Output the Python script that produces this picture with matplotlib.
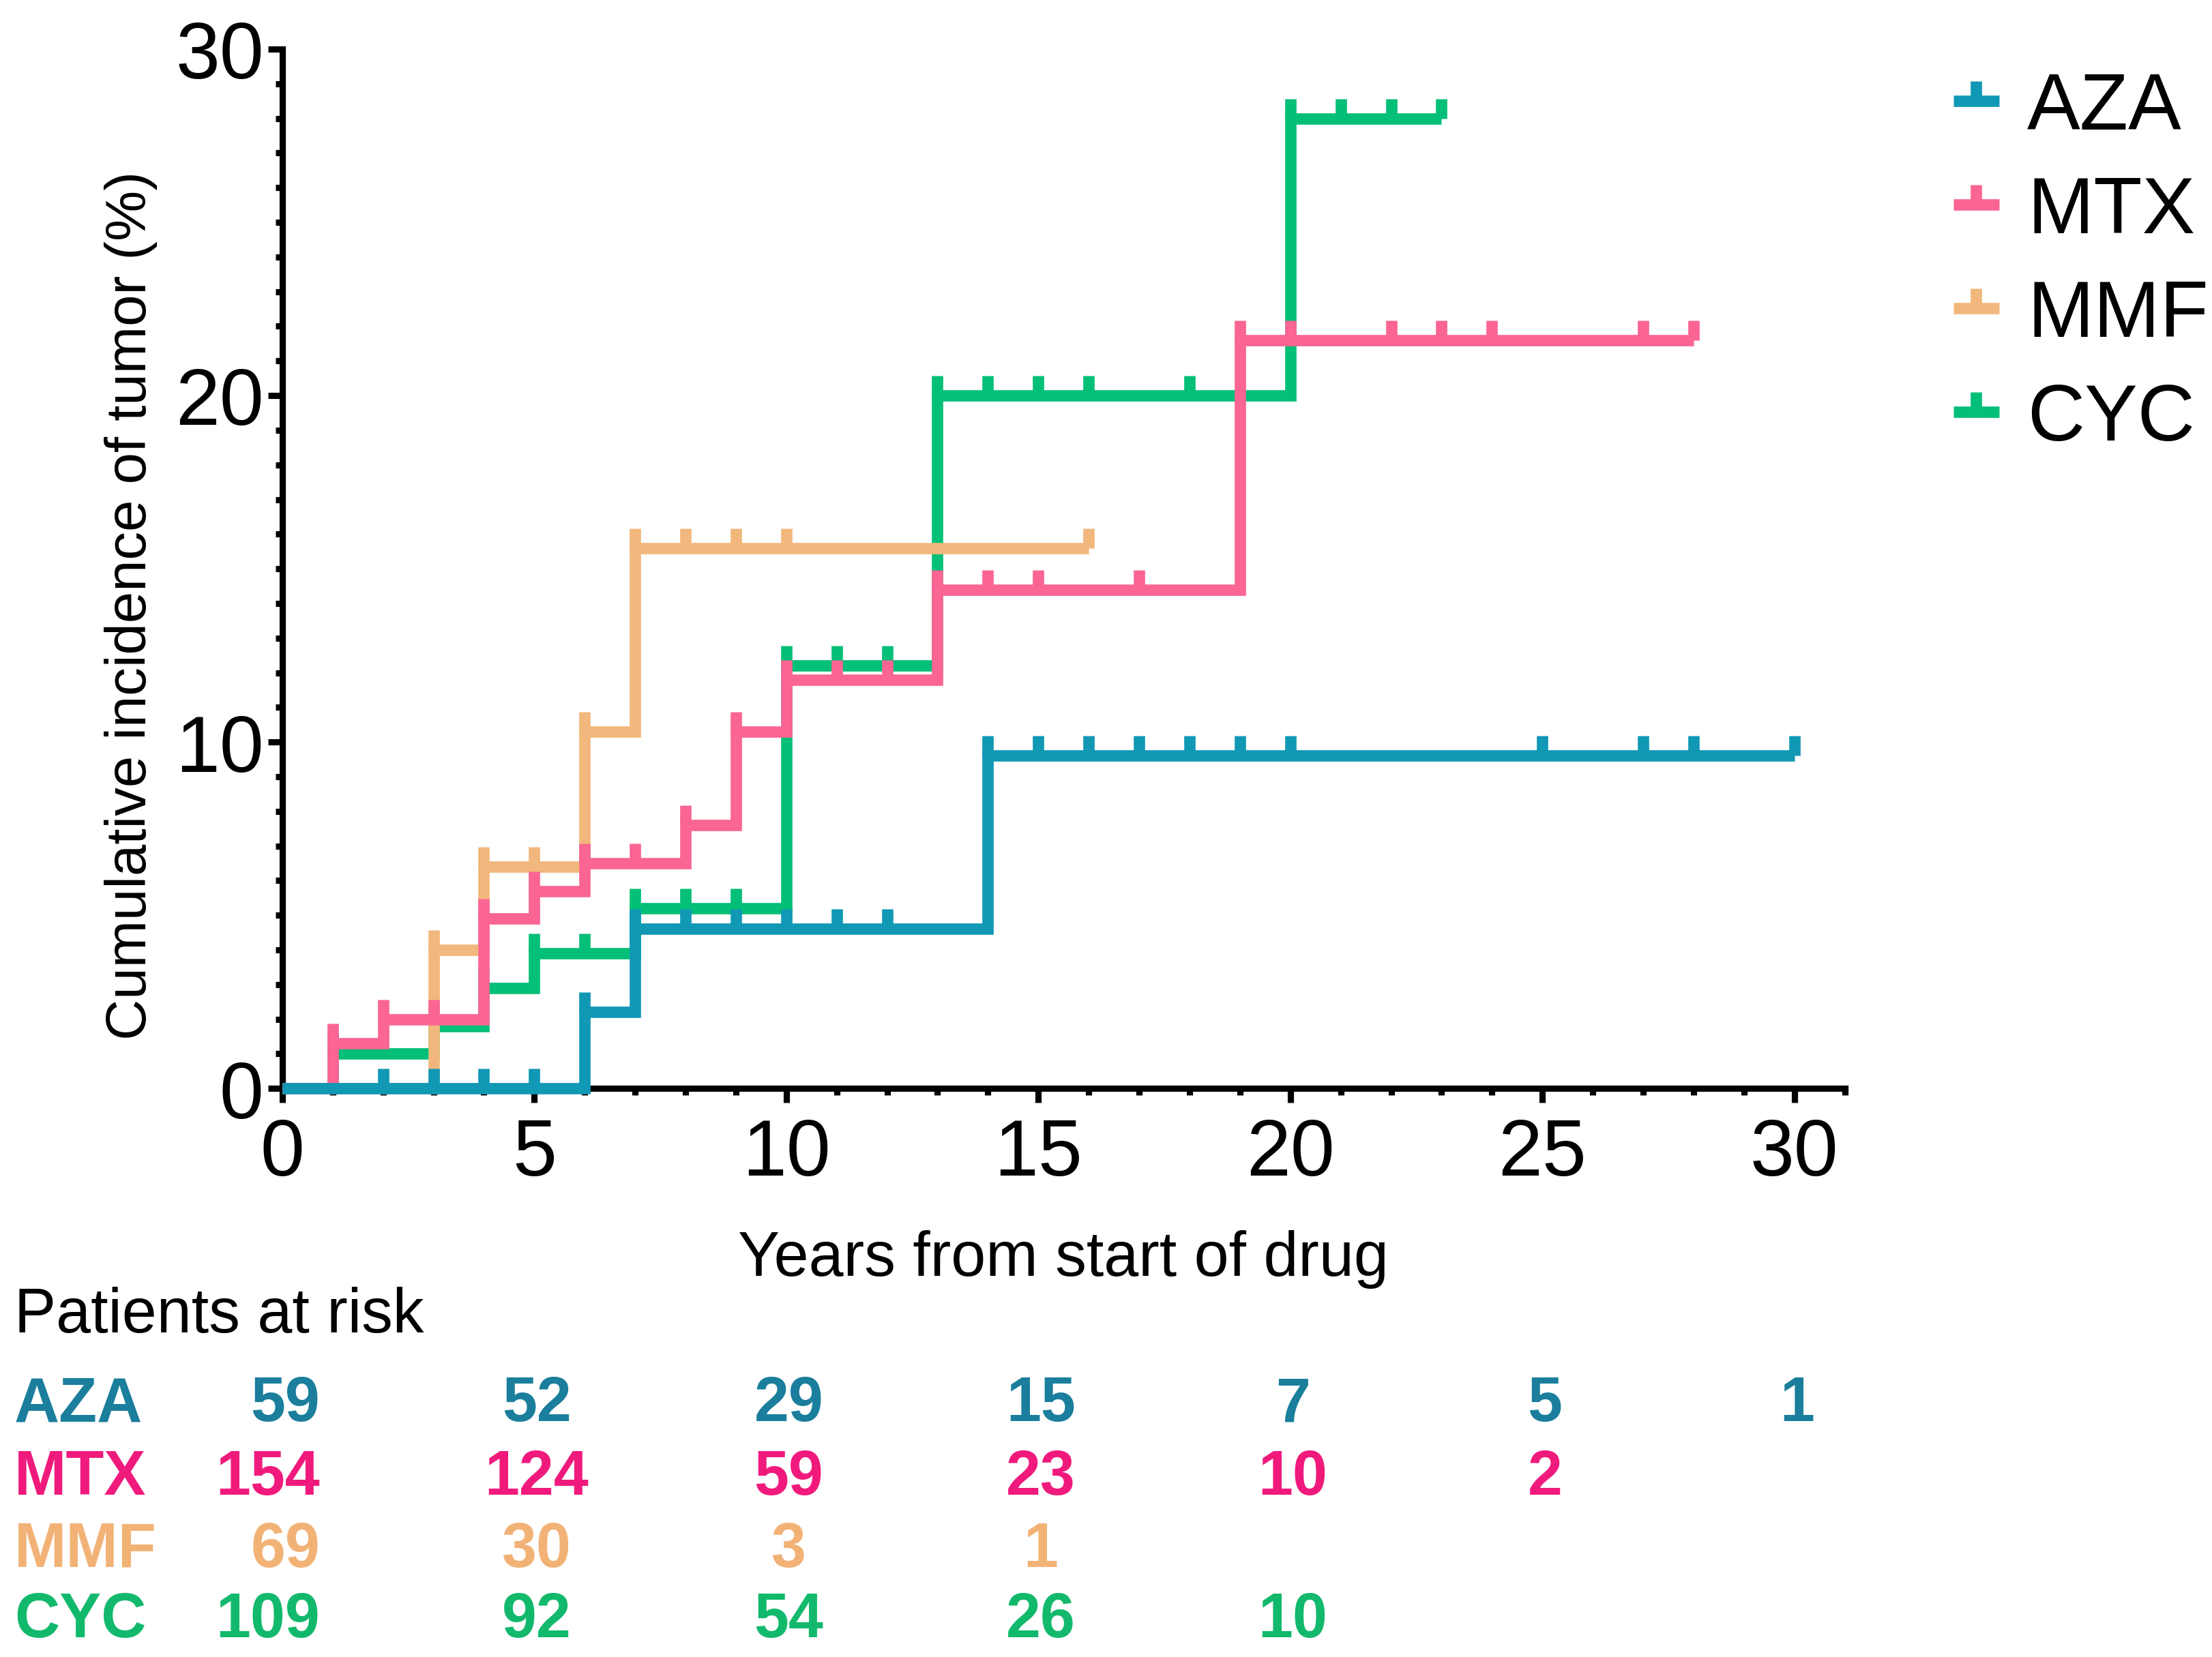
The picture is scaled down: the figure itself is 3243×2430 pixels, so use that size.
import numpy as np
import matplotlib.pyplot as plt
from matplotlib.path import Path
from matplotlib.lines import Line2D
from matplotlib import transforms
from matplotlib.ticker import MultipleLocator

plt.rcParams['font.family'] = ['Liberation Sans', 'DejaVu Sans']

groups = ['AZA', 'MTX', 'MMF', 'CYC']
line_colors = ['#1098b5', '#fa6593', '#f2b77c', '#03bf77']
text_colors = ['#1a7e9c', '#f01a7d', '#f2b276', '#12b96c']

# step curves: event times and cumulative incidence (%) after each event
aza_t = [0, 6, 7, 14]
aza_v = [0, 2.2, 4.6, 9.6]
aza_end = 30
aza_cens = [2, 3, 4, 5, 8, 9, 10, 11, 12, 15, 16, 17, 18, 19, 20, 25, 27, 28, 30]

mtx_t = [0, 1, 2, 4, 5, 6, 8, 9, 10, 13, 19]
mtx_v = [0, 1.3, 2.0, 4.9, 5.7, 6.5, 7.6, 10.3, 11.8, 14.4, 21.6]
mtx_end = 28
mtx_cens = [3, 7, 11, 12, 14, 15, 17, 20, 22, 23, 24, 27, 28]

mmf_t = [0, 3, 4, 6, 7]
mmf_v = [0, 4.0, 6.4, 10.3, 15.6]
mmf_end = 16
mmf_cens = [5, 8, 9, 10, 16]

cyc_t = [0, 1, 3, 4, 5, 7, 10, 13, 20]
cyc_v = [0, 1.0, 1.8, 2.9, 3.9, 5.2, 12.2, 20.0, 28.0]
cyc_end = 23
cyc_cens = [6, 8, 9, 11, 12, 14, 15, 16, 18, 21, 22, 23]

# patients at risk
risk_years = [0, 5, 10, 15, 20, 25, 30]
aza_risk = [59, 52, 29, 15, 7, 5, 1]
mtx_risk = [154, 124, 59, 23, 10, 2]
mmf_risk = [69, 30, 3, 1]
cyc_risk = [109, 92, 54, 26, 10]

curves = [
    (aza_t, aza_v, aza_end, aza_cens),
    (mtx_t, mtx_v, mtx_end, mtx_cens),
    (mmf_t, mmf_v, mmf_end, mmf_cens),
    (cyc_t, cyc_v, cyc_end, cyc_cens),
]
risks = [aza_risk, mtx_risk, mmf_risk, cyc_risk]
zorders = [6, 5, 4, 3]

# upward tick used for censor marks
tick = Path([(0, 0), (0, 1)], [Path.MOVETO, Path.LINETO])
LW = 4
MS = 14


def step_value(times, vals, t):
    i = np.searchsorted(times, t, side='right') - 1
    return vals[i]


fig = plt.figure(figsize=(10.81, 8.103), dpi=300)
ax = fig.add_axes([0.1276, 0.343, 0.834 - 0.1276, 0.970 - 0.343])

for (t, v, end, cens), col, z in zip(curves, line_colors, zorders):
    xs = list(t) + [end]
    ys = list(v) + [v[-1]]
    ax.step(xs, ys, where='post', color=col, lw=LW, zorder=z, clip_on=False,
            solid_joinstyle='miter', solid_capstyle='butt')
    marks = sorted(set(t[1:]) | set(cens))
    my = [step_value(np.array(t), np.array(v), m) for m in marks]
    ax.plot(marks, my, linestyle='none', marker=tick, ms=MS, mew=LW,
            color=col, zorder=z, clip_on=False)

ax.set_xlim(0, 31)
ax.set_ylim(0, 30)
ax.xaxis.set_major_locator(MultipleLocator(5))
ax.xaxis.set_minor_locator(MultipleLocator(1))
ax.yaxis.set_major_locator(MultipleLocator(10))
ax.yaxis.set_minor_locator(MultipleLocator(1))
for s in ['top', 'right']:
    ax.spines[s].set_visible(False)
for s in ['left', 'bottom']:
    ax.spines[s].set_linewidth(2.2)
ax.tick_params(which='major', length=5, width=2.2, labelsize=28)
ax.tick_params(which='minor', length=2.5, width=2.2)
ax.tick_params(axis='x', which='major', pad=5)
ax.tick_params(axis='y', which='major', pad=1.5)

ax.set_xlabel('Years from start of drug', fontsize=22, labelpad=13.5)
ax.set_ylabel('Cumulative incidence of tumor (%)', fontsize=20)
ax.yaxis.set_label_coords(-0.080, 0.465)

handles = [Line2D([], [], color=c, lw=LW, marker=tick, ms=MS, mew=LW,
                  solid_capstyle='butt') for c in line_colors]
fig.legend(handles, groups, loc='upper left', bbox_to_anchor=(0.883, 0.957),
           frameon=False, fontsize=28, handlelength=0.58, handletextpad=0.35,
           labelspacing=0.37, borderpad=0, borderaxespad=0)

# risk table
trans = transforms.blended_transform_factory(ax.transData, fig.transFigure)
fig.text(0.0064, 0.206, 'Patients at risk', fontsize=22, va='center', ha='left')
row_y = [0.1524, 0.108, 0.0646, 0.0221]
for name, counts, col, y in zip(groups, risks, text_colors, row_y):
    fig.text(0.0064, y, name, fontsize=22, fontweight='bold', color=col,
             va='center', ha='left')
    for k, (yr, n) in enumerate(zip(risk_years, counts)):
        if k == 0:
            ax.text(yr + 0.75, y, str(n), transform=trans, fontsize=22,
                    fontweight='bold', color=col, va='center', ha='right')
        else:
            ax.text(yr + 0.05, y, str(n), transform=trans, fontsize=22,
                    fontweight='bold', color=col, va='center', ha='center')

fig.savefig('out.png', dpi=300)
